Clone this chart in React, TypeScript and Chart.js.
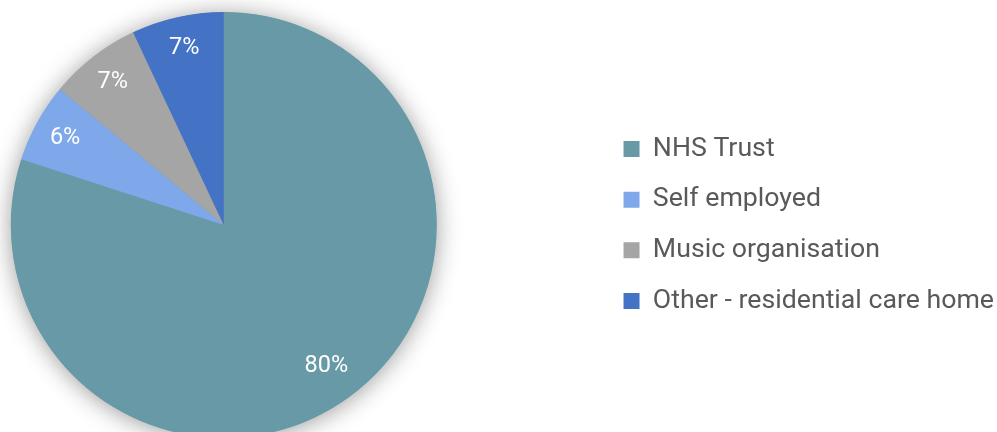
import React, { useEffect, useRef } from "react";
import { Chart, registerables } from "chart.js";

Chart.register(...registerables);

const categories = ["NHS Trust", "Self employed", "Music organisation", "Other - residential care home"];
const values = [80, 6, 7, 7];
const colors = ["#6899A6", "#7FA8EB", "#A5A5A5", "#4472C4"];

const shadowPlugin = {
  id: "pieShadow",
  beforeDatasetsDraw(chart: any) {
    const meta = chart.getDatasetMeta(0);
    const arc = meta.data[0];
    if (!arc) return;
    const { x, y, outerRadius } = arc.getProps(["x", "y", "outerRadius"], true);
    const ctx = chart.ctx;
    ctx.save();
    ctx.shadowColor = "rgba(0,0,0,0.4)";
    ctx.shadowBlur = 24;
    ctx.shadowOffsetX = 0;
    ctx.shadowOffsetY = 2;
    ctx.fillStyle = colors[0];
    ctx.beginPath();
    ctx.arc(x, y, outerRadius - 0.5, 0, Math.PI * 2);
    ctx.fill();
    ctx.restore();
  },
};

const labelPlugin = {
  id: "pctLabels",
  afterDatasetsDraw(chart: any) {
    const meta = chart.getDatasetMeta(0);
    const ds = chart.data.datasets[0].data as number[];
    const total = ds.reduce((a, b) => a + b, 0);
    const ctx = chart.ctx;
    ctx.save();
    ctx.fillStyle = "#FFFFFF";
    ctx.font = "23.5px Roboto";
    ctx.textAlign = "center";
    ctx.textBaseline = "middle";
    meta.data.forEach((arc: any, i: number) => {
      const { x, y, startAngle, endAngle, outerRadius } = arc.getProps(
        ["x", "y", "startAngle", "endAngle", "outerRadius"],
        true
      );
      const mid = (startAngle + endAngle) / 2;
      const r = outerRadius * (i === 0 ? 0.82 : 0.85);
      const pct = Math.round((ds[i] / total) * 100) + "%";
      ctx.fillText(pct, x + Math.cos(mid) * r, y + Math.sin(mid) * r);
    });
    ctx.restore();
  },
};

export default function App() {
  const ref = useRef<HTMLCanvasElement>(null);
  useEffect(() => {
    document.body.style.margin = "0";
    const chart = new Chart(ref.current as HTMLCanvasElement, {
      type: "pie",
      data: {
        labels: categories,
        datasets: [
          {
            data: values,
            backgroundColor: colors,
            borderWidth: 0,
            clip: false,
          } as any,
        ],
      },
      options: {
        responsive: false,
        animation: false,
        radius: 213,
        layout: { padding: { left: 0, right: -7, top: 18, bottom: 0 } },
        plugins: {
          tooltip: { enabled: false },
          legend: {
            position: "right",
            align: "center",
            labels: {
              boxWidth: 16,
              boxHeight: 16,
              padding: 24,
              color: "#595959",
              font: { family: "Roboto", size: 26.7 },
            },
          },
        },
      } as any,
      plugins: [shadowPlugin, labelPlugin],
    });
    return () => chart.destroy();
  }, []);
  return (
    <div style={{ position: "fixed", left: 0, top: 0, width: 997, height: 432, overflow: "hidden", background: "#fff" }}>
      <canvas ref={ref} width={1149} height={432} style={{ position: "absolute", left: -152, top: 0 }} />
    </div>
  );
}
